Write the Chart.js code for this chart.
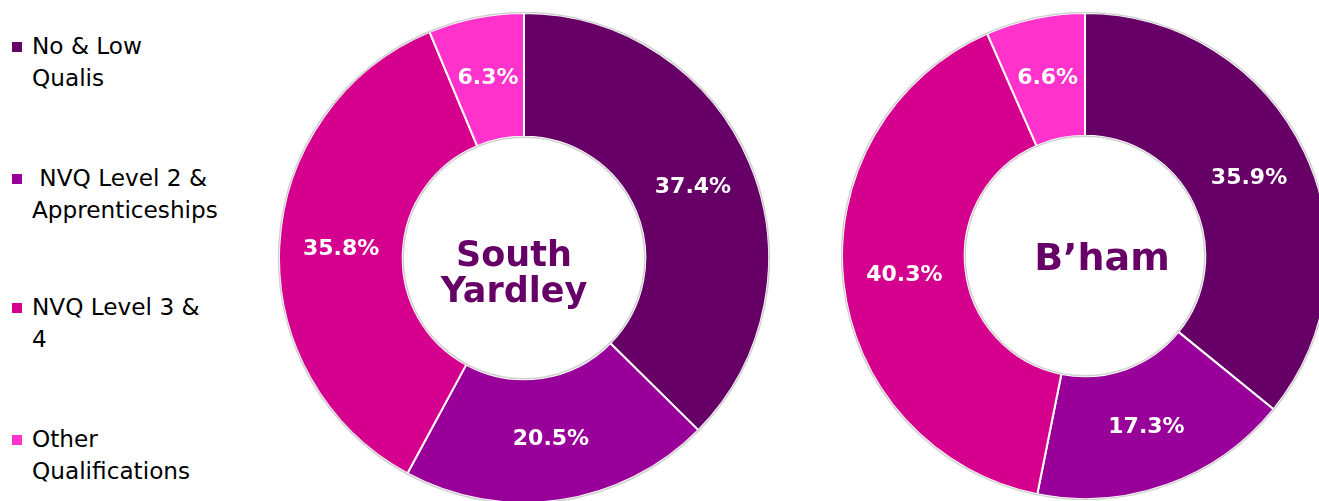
<!DOCTYPE html>
<html>
<head>
<meta charset="utf-8">
<script src="https://cdn.jsdelivr.net/npm/chart.js@4.4.1/dist/chart.umd.min.js"></script>
<style>
  html, body { margin: 0; padding: 0; width: 1319px; height: 501px; overflow: hidden; background: #fff; }
  .box { position: absolute; }
  #legend { position: absolute; left: 12px; top: 30px; font-family: "DejaVu Sans", Verdana, sans-serif; font-size: 23.2px; color: #000; }
  .item { position: absolute; left: 0; white-space: nowrap; line-height: 32px; }
  .sw { position: absolute; left: 0; top: 12px; width: 10px; height: 10px; }
  .txt { position: absolute; left: 20px; top: 0; }
</style>
</head>
<body>
<div id="legend"></div>
<div class="box" style="left:278px; top:12px; width:492px; height:492px;"><canvas id="chartSY"></canvas></div>
<div class="box" style="left:841px; top:12px; width:488px; height:488px;"><canvas id="chartBham"></canvas></div>
<script>
// ── data ────────────────────────────────────────────────────────
const categories = [
  ['No & Low', 'Qualis'],
  [' NVQ Level 2 &', 'Apprenticeships'],
  ['NVQ Level 3 &', '4'],
  ['Other', 'Qualifications']
];
const southYardley = [37.4, 20.5, 35.8, 6.3];
const birmingham = [35.9, 17.3, 40.3, 6.6];
const chartTitles = [['South', 'Yardley'], ['B\u2019ham']];
const colours = ['#660066', '#990099', '#D6008F', '#FF33CC'];

// ── legend ──
const legendEl = document.getElementById('legend');
const legendTops = [0, 132, 261, 393];
categories.forEach((lines, i) => {
  const item = document.createElement('div');
  item.className = 'item';
  item.style.top = legendTops[i] + 'px';
  item.innerHTML = '<div class="sw" style="background:' + colours[i] + '"></div>' +
    '<div class="txt">' + lines.map(l => l.replace(/&/g, '&amp;').replace(/^ /, '&nbsp;')).join('<br>') + '</div>';
  legendEl.appendChild(item);
});

// ── plugins: slice labels, centre title, soft ring edge ──
const sliceLabels = {
  id: 'sliceLabels',
  afterDatasetsDraw(chart) {
    const ctx = chart.ctx;
    const meta = chart.getDatasetMeta(0);
    const values = chart.data.datasets[0].data;
    ctx.save();
    ctx.fillStyle = '#fff';
    ctx.font = 'bold 22px "DejaVu Sans", Verdana, sans-serif';
    ctx.textAlign = 'center';
    ctx.textBaseline = 'middle';
    meta.data.forEach((arc, i) => {
      const p = arc.tooltipPosition();
      ctx.fillText(values[i].toFixed(1) + '%', p.x, p.y);
    });
    ctx.restore();
  }
};

const centreTitle = {
  id: 'centreTitle',
  afterDraw(chart, args, opts) {
    const ctx = chart.ctx;
    const arc = chart.getDatasetMeta(0).data[0];
    const lines = opts.lines || [];
    ctx.save();
    ctx.fillStyle = '#660066';
    ctx.font = 'bold ' + opts.size + 'px "DejaVu Sans", Verdana, sans-serif';
    ctx.textAlign = 'center';
    ctx.textBaseline = 'middle';
    const lh = opts.size * 1.05;
    const y0 = arc.y - (lines.length - 1) * lh / 2 + (opts.dy || 0);
    lines.forEach((l, i) => ctx.fillText(l, arc.x + (opts.dx || 0), y0 + i * lh));
    ctx.restore();
  }
};

const ringEdge = {
  id: 'ringEdge',
  afterDatasetsDraw(chart) {
    const ctx = chart.ctx;
    const arc = chart.getDatasetMeta(0).data[0];
    ctx.save();
    ctx.strokeStyle = 'rgba(150,150,150,0.45)';
    ctx.lineWidth = 1.5;
    ctx.beginPath();
    ctx.arc(arc.x, arc.y, arc.outerRadius + 0.5, 0, Math.PI * 2);
    ctx.stroke();
    ctx.beginPath();
    ctx.arc(arc.x, arc.y, arc.innerRadius - 0.5, 0, Math.PI * 2);
    ctx.stroke();
    ctx.restore();
  }
};

function makeDoughnut(id, values, title, size, dx, dy) {
  const ctx = document.getElementById(id).getContext('2d');
  return new Chart(ctx, {
    type: 'doughnut',
    data: {
      labels: categories,
      datasets: [{
        data: values,
        backgroundColor: colours,
        borderColor: '#fff',
        borderWidth: 2
      }]
    },
    options: {
      responsive: true,
      maintainAspectRatio: false,
      animation: false,
      cutout: '49.5%',
      layout: { padding: 0 },
      plugins: {
        legend: { display: false },
        tooltip: { enabled: false },
        centreTitle: { lines: title, size: size, dx: dx, dy: dy }
      }
    },
    plugins: [ringEdge, sliceLabels, centreTitle]
  });
}

makeDoughnut('chartSY', southYardley, chartTitles[0], 35, -10, 17);
makeDoughnut('chartBham', birmingham, chartTitles[1], 38, 17, 4);
</script>
</body>
</html>
